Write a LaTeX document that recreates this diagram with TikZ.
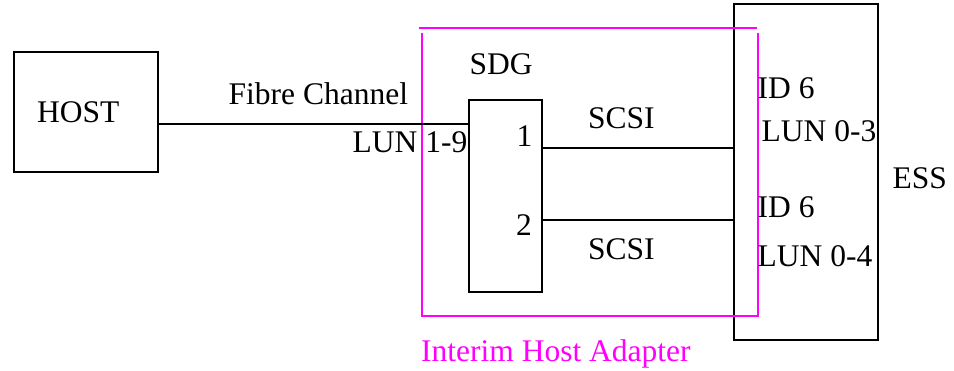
\documentclass[tikz,border=0pt]{standalone}
\usepackage{fontspec}
\setmainfont{Liberation Serif}
\definecolor{adapter}{RGB}{255,0,255}
\begin{document}
\begin{tikzpicture}[x=1pt,y=-1pt,
  box/.style={draw=black,line width=2pt,inner sep=0pt},
  lbl/.style={anchor=base west,inner sep=0pt,font=\fontsize{31.5}{36}\selectfont},
  wire/.style={draw=black,line width=2pt},
  frame/.style={draw=adapter,line width=1.7pt}]
\useasboundingbox (0,0) rectangle (954,371);

% devices
\node[box,minimum width=144pt,minimum height=120pt] (host) at (86,112) {};
\node[box,minimum width=73pt,minimum height=192pt] (sdg) at (505.8,195.8) {};
\node[box,minimum width=144pt,minimum height=336pt] (ess) at (806,172) {};

% adapter outline
\draw[frame] (419,27.7) -- (756.5,27.7);
\draw[frame] (422,33) -- (422,315.7) -- (758,315.7) -- (758,33);

% links
\coordinate (fc) at ([yshift=-12pt]host.east);
\draw[wire] (fc) -- (fc -| sdg.west);
\coordinate (s1) at ([yshift=48.1pt]sdg.east);
\coordinate (s2) at ([yshift=-24.2pt]sdg.east);
\draw[wire] (s1) -- (s1 -| ess.west);
\draw[wire] (s2) -- (s2 -| ess.west);

% labels
\node[lbl] (thost) at (37,123) {HOST};
\node[lbl] (tfc) at (228.5,105) {Fibre Channel};
\node[lbl] (tlun) at (352.5,152.7) {LUN 1-9};
\node[lbl] (tsdg) at (469.5,75) {SDG};
\node[lbl] (tp1) at (516.5,146.7) {1};
\node[lbl] (tp2) at (516,236) {2};
\node[lbl] (tscsi1) at (588,129) {SCSI};
\node[lbl] (tscsi2) at (588,260) {SCSI};
\node[lbl] (tid1) at (757.5,99) {ID 6};
\node[lbl] (tlun1) at (761.5,142) {LUN 0-3};
\node[lbl] (tid2) at (757.5,218) {ID 6};
\node[lbl] (tlun2) at (757.5,267) {LUN 0-4};
\node[lbl] (tess) at (892.5,189) {ESS};
\node[lbl,text=adapter] (tiha) at (421,361.7) {Interim Host Adapter};
\end{tikzpicture}
\end{document}
